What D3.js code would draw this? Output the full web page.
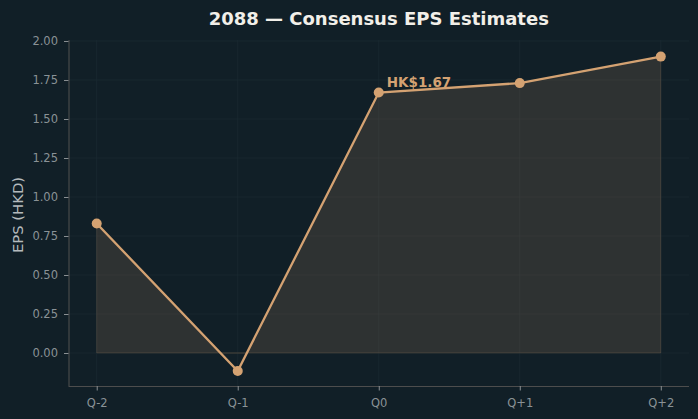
<!DOCTYPE html>
<html>
<head>
<meta charset="utf-8">
<script src="https://cdn.jsdelivr.net/npm/d3@7"></script>
<style>
  html, body { margin: 0; padding: 0; background: #111f27; }
  svg { display: block; font-family: "DejaVu Sans", sans-serif; }
</style>
</head>
<body>
<div id="chart"></div>
<script>
const quarters = ['Q-2', 'Q-1', 'Q0', 'Q+1', 'Q+2'];
const eps = [0.83, -0.115, 1.67, 1.73, 1.90];
const yTicks = [0, 0.25, 0.5, 0.75, 1.0, 1.25, 1.5, 1.75, 2.0];
const highlightIndex = 2;

const width = 698, height = 419;
const margin = { top: 40, right: 9, bottom: 33, left: 68.5 };
const lineColor = '#d4a272';

const svg = d3.select('#chart').append('svg')
  .attr('width', width)
  .attr('height', height);

svg.append('rect').attr('width', width).attr('height', height).attr('fill', '#111f27');

const x = d3.scaleLinear()
  .domain([-0.2, quarters.length - 1 + 0.2])
  .range([margin.left, width - margin.right]);
const y = d3.scaleLinear()
  .domain([-0.2115, 2.0064])
  .range([height - margin.bottom, margin.top]);

// grid
const grid = svg.append('g').attr('stroke', '#1b2a31').attr('stroke-width', 0.8);
grid.selectAll('.gy').data(yTicks).enter().append('line')
  .attr('x1', margin.left).attr('x2', width - margin.right)
  .attr('y1', d => y(d)).attr('y2', d => y(d));
grid.selectAll('.gx').data(quarters).enter().append('line')
  .attr('x1', (d, i) => x(i)).attr('x2', (d, i) => x(i))
  .attr('y1', margin.top).attr('y2', height - margin.bottom);

// fill where eps >= 0, with zero crossings interpolated
const pts = [];
eps.forEach((v, i) => {
  if (i > 0) {
    const p = eps[i - 1];
    if ((p < 0) !== (v < 0)) {
      const t = p / (p - v);
      pts.push({ i: i - 1 + t, v: 0 });
    }
  }
  pts.push({ i, v });
});
const area = d3.area()
  .x(d => x(d.i))
  .y0(y(0))
  .y1(d => y(Math.max(d.v, 0)));
svg.append('path')
  .datum(pts)
  .attr('d', area)
  .attr('fill', lineColor)
  .attr('fill-opacity', 0.15)
  .attr('stroke', lineColor)
  .attr('stroke-opacity', 0.15)
  .attr('stroke-width', 1);

// axes
const xAxis = d3.axisBottom(x)
  .tickValues(d3.range(quarters.length))
  .tickFormat(i => quarters[i])
  .tickSize(4.5).tickPadding(8);
const yAxis = d3.axisLeft(y)
  .tickValues(yTicks)
  .tickFormat(d3.format('.2f'))
  .tickSize(4.5).tickPadding(6);

const gx = svg.append('g')
  .attr('transform', `translate(0,${height - margin.bottom})`)
  .call(xAxis);
const gy = svg.append('g')
  .attr('transform', `translate(${margin.left},0)`)
  .call(yAxis);

[gx, gy].forEach(g => {
  g.select('.domain').attr('stroke', '#4d4d4d').attr('stroke-width', 1.1);
  g.selectAll('.tick line').attr('stroke', '#8a8f92');
  g.selectAll('.tick text')
    .attr('fill', '#8a9296')
    .attr('font-size', 11.5)
    .attr('font-family', '"DejaVu Sans", sans-serif');
});
gx.select('.domain').attr('d', `M${margin.left},0.5H${width - margin.right}`);
gy.select('.domain').attr('d', `M0.5,${margin.top}V${height - margin.bottom}`);

// line and markers
const line = d3.line().x((d, i) => x(i)).y(d => y(d));
svg.append('path')
  .datum(eps)
  .attr('d', line)
  .attr('fill', 'none')
  .attr('stroke', lineColor)
  .attr('stroke-width', 2.3);

svg.selectAll('.pt').data(eps).enter().append('circle')
  .attr('cx', (d, i) => x(i))
  .attr('cy', d => y(d))
  .attr('r', 5)
  .attr('fill', lineColor);

// annotation
svg.append('text')
  .attr('x', x(highlightIndex) + 8)
  .attr('y', y(eps[highlightIndex]) - 5.5)
  .attr('fill', lineColor)
  .attr('font-size', 13.5)
  .attr('font-weight', 'bold')
  .text('HK$' + eps[highlightIndex].toFixed(2));

// title
svg.append('text')
  .attr('x', (margin.left + width - margin.right) / 2)
  .attr('y', 24.5)
  .attr('text-anchor', 'middle')
  .attr('fill', '#f2efe9')
  .attr('font-size', 18)
  .attr('font-weight', 'bold')
  .text('2088 — Consensus EPS Estimates');

// y label
svg.append('text')
  .attr('transform', `translate(22.5,215) rotate(-90)`)
  .attr('text-anchor', 'middle')
  .attr('fill', '#b5babd')
  .attr('font-size', 14.8)
  .text('EPS (HKD)');
</script>
</body>
</html>
